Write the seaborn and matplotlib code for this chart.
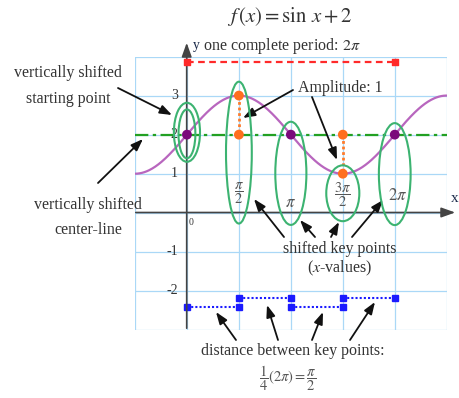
import numpy as np
import matplotlib
matplotlib.use("Agg")
import matplotlib.pyplot as plt
import seaborn as sns
from matplotlib.patches import Ellipse

# key points of f(x) = sin x + 2 over one period
key_x = [0, np.pi / 2, np.pi, 3 * np.pi / 2, 2 * np.pi]
key_y = [2, 3, 2, 1, 2]
mid_x = [0, np.pi, 2 * np.pi]
mid_y = [2, 2, 2]
peak_x = [np.pi / 2, np.pi / 2, 3 * np.pi / 2, 3 * np.pi / 2]
peak_y = [3, 2, 2, 1]
tick_labels = [r"$\dfrac{\pi}{2}$", r"$\pi$", r"$\dfrac{3\pi}{2}$", r"$2\pi$"]
y_labels = ["3", "2", "1", "-1", "-2"]
y_label_vals = [3, 2, 1, -1, -2]
period_y = 3.85
dist_y = [-2.41, -2.17, -2.41, -2.17]

sns.set_theme(style="white")
plt.rcParams["font.family"] = ["Liberation Serif", "DejaVu Serif"]
plt.rcParams["mathtext.fontset"] = "stix"

W, H = 460, 398
fig = plt.figure(figsize=(4.6, 3.98), dpi=100)
ax = fig.add_axes([135 / W, 1 - 330 / H, 311.7 / W, 273.5 / H])
ax.set_xlim(-np.pi / 2, 5 * np.pi / 2)
ax.set_ylim(-3, 4)
ax.set_xticks(np.arange(-1, 6) * np.pi / 2)
ax.set_yticks(range(-3, 5))
ax.grid(True, color="#aad8f7", lw=0.9)
ax.tick_params(length=0, labelbottom=False, labelleft=False)
for s in ax.spines.values():
    s.set_visible(False)


def P(px, py):
    return (px / W, 1 - py / H)


# axes with arrows
ax.annotate("", xy=P(458, 212.5), xytext=P(133, 212.5), xycoords="figure fraction",
            arrowprops=dict(arrowstyle="-|>,head_length=0.7,head_width=0.25", color="#444444", lw=1.2))
ax.annotate("", xy=P(186.7, 40), xytext=P(186.7, 331), xycoords="figure fraction",
            arrowprops=dict(arrowstyle="-|>,head_length=0.7,head_width=0.25", color="#444444", lw=1.2))

# curve and center line
xs = np.linspace(-np.pi / 2, 5 * np.pi / 2, 400)
sns.lineplot(x=xs, y=np.sin(xs) + 2, color="#b866be", lw=1.6, ax=ax)
ax.axhline(2, color="#22a022", lw=1.6, ls=(0, (6, 2, 1.5, 2)))

# period bar
sns.lineplot(x=[key_x[0], key_x[-1]], y=[period_y, period_y], color="#ff2a2a", lw=1.6,
             ls=(0, (3, 2)), ax=ax)
ax.scatter([key_x[0], key_x[-1]], [period_y, period_y], marker="s", s=14, color="#ff2a2a", zorder=5)

# amplitude dotted lines
ax.plot([peak_x[0], peak_x[1]], [peak_y[0], peak_y[1]], color="#ff7b2a", lw=2, ls=(0, (1, 1)))
ax.plot([peak_x[2], peak_x[3]], [peak_y[2], peak_y[3]], color="#ff7b2a", lw=2, ls=(0, (1, 1)))

# distance segments
for i in range(4):
    ax.plot([key_x[i], key_x[i + 1]], [dist_y[i], dist_y[i]], color="#1a1aff", lw=1.5,
            ls=(0, (1, 1)), marker="s", ms=4.5)

# ellipses
ell = [(0, 2.06, 0.79, 1.51), (0, 2.02, 0.51, 1.25), (np.pi / 2, 1.54, 0.78, 3.63),
       (np.pi, 1.01, 0.94, 2.64), (3 * np.pi / 2, 0.5, 1.0, 1.43), (2 * np.pi, 0.99, 0.96, 2.61)]
for cx, cy, w, h in ell:
    ax.add_patch(Ellipse((cx, cy), w, h, fill=False, ec="#3cb371", lw=1.5, zorder=4))

# key points
sns.scatterplot(x=peak_x, y=peak_y, color="#ff6f1f", s=50, edgecolor="none", zorder=6, ax=ax)
sns.scatterplot(x=mid_x, y=mid_y, color="#7b0a7b", s=50, edgecolor="none", zorder=6, ax=ax)

# tick labels
tick_pos = [(0, 0.5, 10.5), (0, 0.24, 12), (0, 0.45, 10.5), (0.1, 0.42, 12)]
for x, lab, (dx, ty, sz) in zip(key_x[1:], tick_labels, tick_pos):
    ax.text(x + dx, ty, lab, ha="center", va="center", fontsize=sz, color="#555555")
for y, lab in zip(y_label_vals, y_labels):
    ax.text(-0.28, y, lab, ha="right", va="center", fontsize=10, color="#333333")
ax.text(0.06, -0.25, "0", ha="left", va="center", fontsize=7, color="#333333")
fig.text(*P(451, 199), "x", fontsize=11, color="#1b2a4a", ha="left", va="center")
fig.text(*P(193, 45), "y", fontsize=10, color="#1b2a4a", ha="left", va="center")

fs = 11.5
fig.text(*P(290, 17), r"$f\,\left(x\right)=\sin\,x+2$", fontsize=15, ha="center", va="center", color="#333333")
fig.text(*P(203, 46), r"one complete period: $2\pi$", fontsize=fs, ha="left", va="center", color="#333333")
fig.text(*P(68, 73), "vertically shifted", fontsize=fs, ha="center", va="center", color="#333333")
fig.text(*P(68, 99), "starting point", fontsize=fs, ha="center", va="center", color="#333333")
fig.text(*P(88, 205), "vertically shifted", fontsize=fs, ha="center", va="center", color="#333333")
fig.text(*P(88, 230), "center-line", fontsize=fs, ha="center", va="center", color="#333333")
fig.text(*P(340, 88), "Amplitude: 1", fontsize=fs, ha="center", va="center", color="#333333")
fig.text(*P(340, 249), "shifted key points", fontsize=fs, ha="center", va="center", color="#333333")
fig.text(*P(340, 268), r"($\it{x}$-values)", fontsize=fs, ha="center", va="center", color="#333333")
fig.text(*P(293, 351), "distance between key points:", fontsize=fs, ha="center", va="center", color="#333333")
fig.text(*P(288, 378), r"$\dfrac{1}{4}\left(2\pi\right)=\dfrac{\pi}{2}$", fontsize=10.5, ha="center",
         va="center", color="#555555")

arrows = [((118, 88), (172, 115)), ((98, 183), (143, 139)),
          ((293, 90), (243, 118)), ((312, 97), (337, 160)),
          ((284, 237), (254, 199)), ((315, 237), (300, 220)), ((331, 237), (339, 222)), ((352, 237), (383, 200)),
          ((236, 340), (216, 312)), ((278, 340), (267, 305)), ((312, 340), (323, 312)), ((350, 340), (375, 302))]
for (x0, y0), (x1, y1) in arrows:
    ax.annotate("", xy=P(x1, y1), xytext=P(x0, y0), xycoords="figure fraction",
                arrowprops=dict(arrowstyle="-|>,head_length=0.6,head_width=0.22", color="#111111", lw=1.3,
                                shrinkA=0, shrinkB=0))

fig.savefig("out.png", dpi=100)
